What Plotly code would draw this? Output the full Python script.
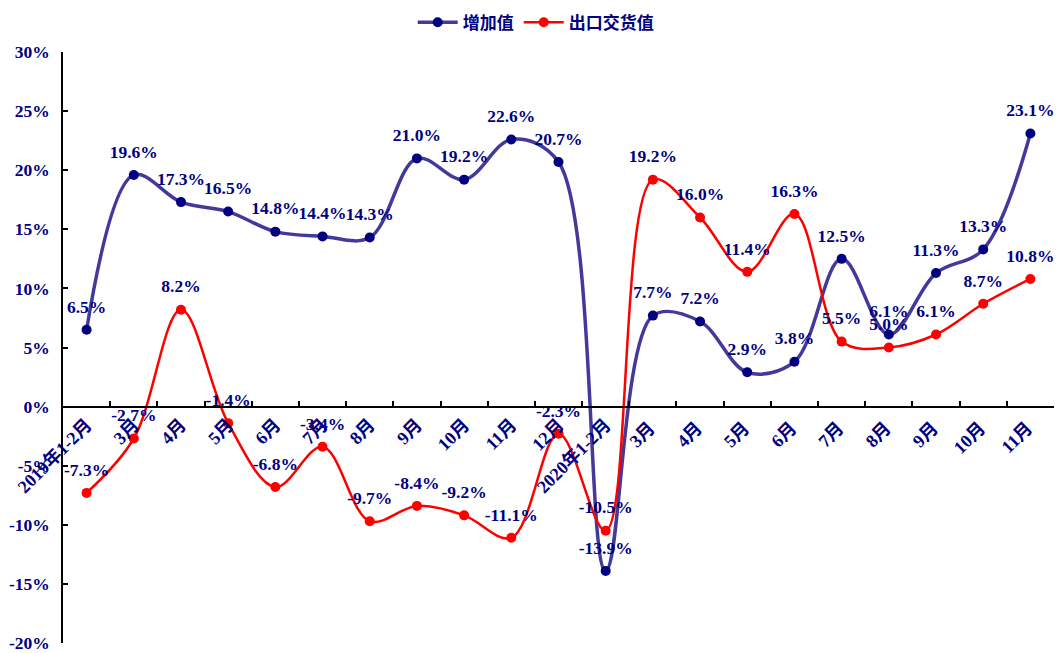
import plotly.graph_objects as go

categories = ["2019年1-2月", "3月", "4月", "5月", "6月", "7月", "8月", "9月", "10月", "11月", "12月",
              "2020年1-2月", "3月 ", "4月 ", "5月 ", "6月 ", "7月 ", "8月 ", "9月 ", "10月 ", "11月 "]
added_value = [6.5, 19.6, 17.3, 16.5, 14.8, 14.4, 14.3, 21.0, 19.2, 22.6, 20.7,
               -13.9, 7.7, 7.2, 2.9, 3.8, 12.5, 6.1, 11.3, 13.3, 23.1]
export_value = [-7.3, -2.7, 8.2, -1.4, -6.8, -3.4, -9.7, -8.4, -9.2, -11.1, -2.3,
                -10.5, 19.2, 16.0, 11.4, 16.3, 5.5, 5.0, 6.1, 8.7, 10.8]
y_tick_values = [-20, -15, -10, -5, 0, 5, 10, 15, 20, 25, 30]
y_tick_labels = ["-20%", "-15%", "-10%", "-5%", "0%", "5%", "10%", "15%", "20%", "25%", "30%"]

NAVY = "#000080"
FONT = "Liberation Serif, Times New Roman, Noto Sans CJK SC, serif"

fig = go.Figure()
series = [
    ("增加值", added_value, "#43399A", 3.5, NAVY),
    ("出口交货值", export_value, "#FF0000", 2.5, "#FF0000"),
]
for name, vals, lc, lw, mc in series:
    fig.add_trace(go.Scatter(
        x=categories, y=vals, name=name, mode="lines+markers",
        line=dict(color=lc, width=lw, shape="spline", smoothing=1.0),
        marker=dict(color=mc, size=10),
        cliponaxis=False,
    ))
for name, vals, lc, lw, mc in series:
    fig.add_trace(go.Scatter(
        x=categories, y=vals, mode="markers+text", showlegend=False, hoverinfo="skip",
        marker=dict(color="rgba(0,0,0,0)", size=19),
        text=[f"{v:.1f}%" for v in vals], textposition="top center",
        textfont=dict(family=FONT, size=17.5, color=NAVY, weight="bold"),
        cliponaxis=False,
    ))

fig.update_layout(
    width=1057, height=653,
    margin=dict(l=63, r=3, t=52, b=10, autoexpand=False),
    paper_bgcolor="white", plot_bgcolor="white",
    font=dict(family=FONT, color=NAVY, size=16, weight="bold"),
    showlegend=True,
    legend=dict(orientation="h", x=0.477, xanchor="center", y=1.08, yanchor="top",
                font=dict(family="Noto Sans CJK SC, Liberation Serif", size=17, color=NAVY, weight="bold"),
                itemwidth=40, bgcolor="rgba(0,0,0,0)"),
    xaxis=dict(
        type="category", range=[-0.5, len(categories) - 0.5],
        anchor="free", position=0.4,
        showline=True, linecolor="black", linewidth=1.5,
        ticks="inside", ticklen=5, tickcolor="black", tickwidth=1.5,
        tickson="boundaries",
        tickangle=-45, showgrid=False, zeroline=False,
        tickfont=dict(family=FONT, size=18, color=NAVY, weight="bold"),
    ),
    yaxis=dict(
        range=[-20, 30], tickvals=y_tick_values, ticktext=y_tick_labels,
        showline=True, linecolor="black", linewidth=1.5,
        ticks="inside", ticklen=5, tickcolor="black", tickwidth=1.5,
        ticklabelstandoff=8, ticklabeloverflow="allow",
        showgrid=False, zeroline=False,
        tickfont=dict(family=FONT, size=17.5, color=NAVY, weight="bold"),
    ),
)

fig.write_html("out.html")
